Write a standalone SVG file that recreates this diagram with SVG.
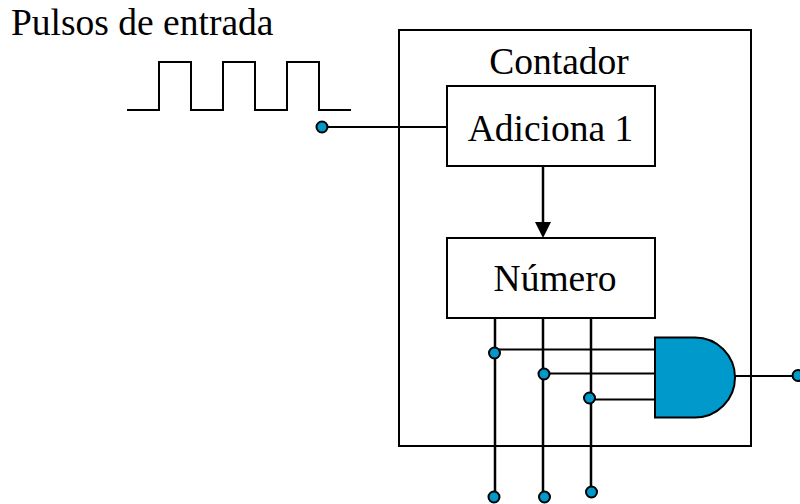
<svg xmlns="http://www.w3.org/2000/svg" width="800" height="504" viewBox="0 0 800 504">
<style>
.box{fill:#fff;stroke:#000;stroke-width:2}
.w{fill:none;stroke:#000;stroke-width:2}
.v{fill:none;stroke:#000;stroke-width:2.500}
.d{fill:#0099cc;stroke:#000;stroke-width:2}
.t{font-family:"Liberation Serif",serif;font-size:37.500px;fill:#000}
</style>
<defs><marker id="a" markerUnits="userSpaceOnUse" markerWidth="16" markerHeight="16" refX="8" refY="8" orient="auto"><path d="M0 0L16 8L0 16Z" fill="#000"/></marker></defs>
<rect width="800" height="504" fill="#fff"/>
<g id="counter"><rect class="box" x="399" y="30" width="352" height="416"/><text class="t" x="559" y="74" text-anchor="middle">Contador</text></g>
<g id="title"><text class="t" x="11" y="35">Pulsos de entrada</text></g>
<g id="pulses"><path class="w" d="M127 110H159V62H191V110H223V62H255V110H287V62H319V110H351"/></g>
<g id="connectors">
<path class="w" d="M322 127H447"/>
<path class="v" d="M543 166V230" marker-end="url(#a)"/>
<path class="v" d="M495 319V497M543 319V497M591 319V492"/>
<path class="w" d="M494 349.500H655M544 373.500H655M589 399.500H655M735 376H797"/>
</g>
<g id="adiciona"><rect class="box" x="447" y="86" width="208" height="80"/><text class="t" x="550.500" y="141" text-anchor="middle">Adiciona 1</text></g>
<g id="numero"><rect class="box" x="447" y="238" width="208" height="80"/><text class="t" x="555" y="291" text-anchor="middle">Número</text></g>
<g id="and-gate"><path class="d" d="M655 337.500H695A40 40 0 0 1 695 417.500H655Z"/></g>
<g id="dots">
<circle class="d" cx="322" cy="127" r="5.500"/>
<circle class="d" cx="494.500" cy="353" r="5.500"/>
<circle class="d" cx="544" cy="374" r="5.500"/>
<circle class="d" cx="589.500" cy="398" r="5.500"/>
<circle class="d" cx="494" cy="497" r="5.500"/>
<circle class="d" cx="544.500" cy="497" r="5.500"/>
<circle class="d" cx="591.500" cy="492" r="5.500"/>
<circle class="d" cx="798" cy="375.500" r="5.500"/>
</g>
</svg>
